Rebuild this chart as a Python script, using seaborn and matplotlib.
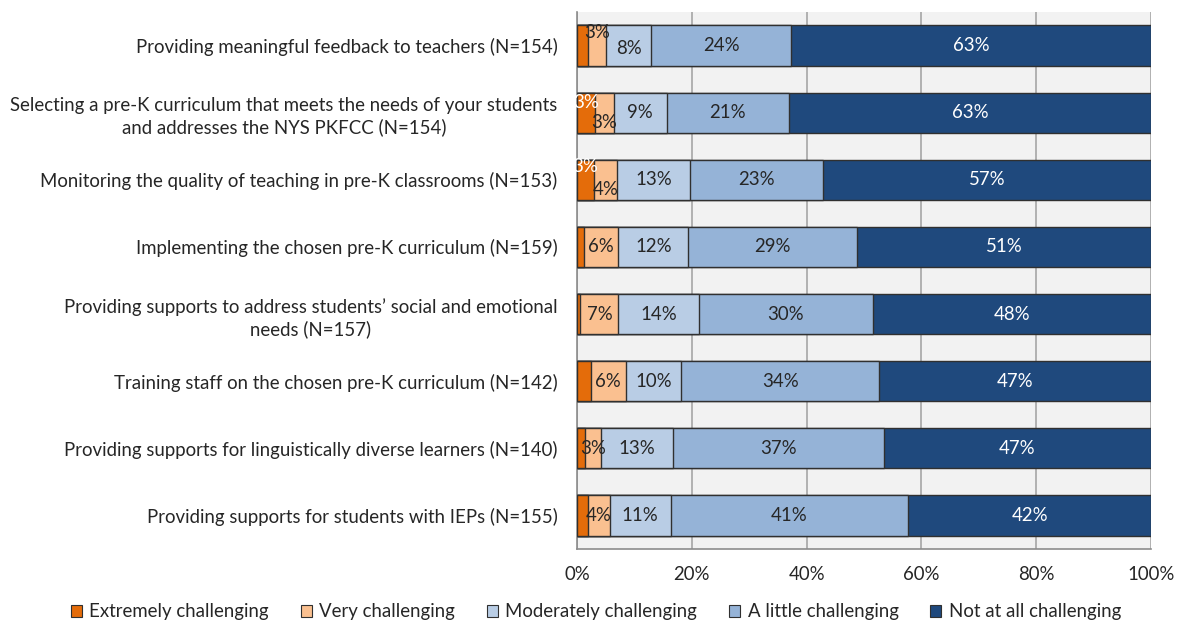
import numpy as np
import pandas as pd
import seaborn as sns
import matplotlib.pyplot as plt
from matplotlib.patches import Patch

categories = [
    "Providing meaningful feedback to teachers (N=154)",
    "Selecting a pre-K curriculum that meets the needs of your students\nand addresses the NYS PKFCC (N=154)",
    "Monitoring the quality of teaching in pre-K classrooms (N=153)",
    "Implementing the chosen pre-K curriculum (N=159)",
    "Providing supports to address students\u2019 social and emotional\nneeds (N=157)",
    "Training staff on the chosen pre-K curriculum (N=142)",
    "Providing supports for linguistically diverse learners (N=140)",
    "Providing supports for students with IEPs (N=155)",
]
levels = ["Extremely challenging", "Very challenging", "Moderately challenging",
          "A little challenging", "Not at all challenging"]
extremely = [1.9, 3.1, 3.0, 1.2, 0.6, 2.4, 1.4, 2.0]
very = [3.2, 3.3, 4.0, 6.0, 6.6, 6.1, 2.8, 3.7]
moderately = [7.8, 9.2, 12.6, 12.2, 14.0, 9.7, 12.6, 10.6]
a_little = [24.4, 21.4, 23.2, 29.4, 30.4, 34.4, 36.6, 41.4]
not_at_all = [62.7, 63.0, 57.2, 51.2, 48.4, 47.4, 46.6, 42.3]

colors = ["#E46C0A", "#FAC090", "#B9CDE5", "#95B3D7", "#1F497D"]
label_colors = ["white", "#262626", "#262626", "#262626", "white"]

df = pd.DataFrame({"category": categories, levels[0]: extremely, levels[1]: very,
                   levels[2]: moderately, levels[3]: a_little, levels[4]: not_at_all})
cum = df[levels].cumsum(axis=1)

sns.set_style("white")
plt.rcParams["font.family"] = ["Lato", "DejaVu Sans"]
FS = 13.4
fig = plt.figure(figsize=(11.77, 6.22), dpi=100)
ax = fig.add_axes([577 / 1177, 1 - 549 / 622, 574 / 1177, 537 / 622])
ax.set_facecolor("#F2F2F2")

# stacked bars: draw cumulative totals from the widest down
for i in range(len(levels) - 1, -1, -1):
    sns.barplot(data=cum.assign(category=categories), x=levels[i], y="category",
                orient="h", color=colors[i], edgecolor="#303030", linewidth=1.0,
                width=0.6, saturation=1, ax=ax, zorder=3)

# value labels (a few nudged up/down as in the original)
nudges = {(0, 1): -0.2, (0, 2): 0.05, (1, 0): -0.15, (1, 1): 0.15,
          (2, 0): -0.2, (2, 1): 0.15}
for r in range(len(categories)):
    left = 0
    for i, lev in enumerate(levels):
        v = df.loc[r, lev]
        if round(v) >= 3:
            ax.text(left + v / 2, r + nudges.get((r, i), 0), f"{round(v):.0f}%",
                    ha="center", va="center", fontsize=FS,
                    color=label_colors[i], zorder=5)
        left += v

ax.set_xlim(0, 100)
ax.set_ylim(len(categories) - 0.5, -0.5)
ax.set_xticks(np.arange(0, 101, 20))
ax.set_xticklabels([f"{t}%" for t in range(0, 101, 20)])
ax.xaxis.grid(True, color="#A6A6A6", linewidth=1.2, zorder=0)
ax.set_axisbelow(True)
ax.set_xlabel("")
ax.set_ylabel("")
ax.set_yticks(range(len(categories)))
ax.set_yticklabels(categories, multialignment="center", linespacing=1.3)
ax.set_yticks(np.arange(-0.5, len(categories), 1), minor=True)
ax.tick_params(axis="y", which="major", length=0, pad=14, labelsize=FS, labelcolor="#262626")
ax.tick_params(axis="y", which="minor", length=6, color="#8C8C8C", direction="out")
ax.tick_params(axis="x", length=6, color="#8C8C8C", direction="out", labelsize=FS,
               labelcolor="#262626", pad=6)
for s in ["top", "right"]:
    ax.spines[s].set_visible(False)
for s in ["left", "bottom"]:
    ax.spines[s].set_color("#8C8C8C")
    ax.spines[s].set_linewidth(1.2)

handles = [Patch(facecolor=c, edgecolor="#303030", linewidth=0.8) for c in colors]
fig.legend(handles, levels, loc="center", bbox_to_anchor=(596 / 1177, 1 - 612 / 622),
           ncol=5, frameon=False, fontsize=FS, handlelength=0.6, handleheight=0.6,
           handletextpad=0.4, columnspacing=1.7, labelcolor="#262626")

fig.savefig("out.png", dpi=100)
